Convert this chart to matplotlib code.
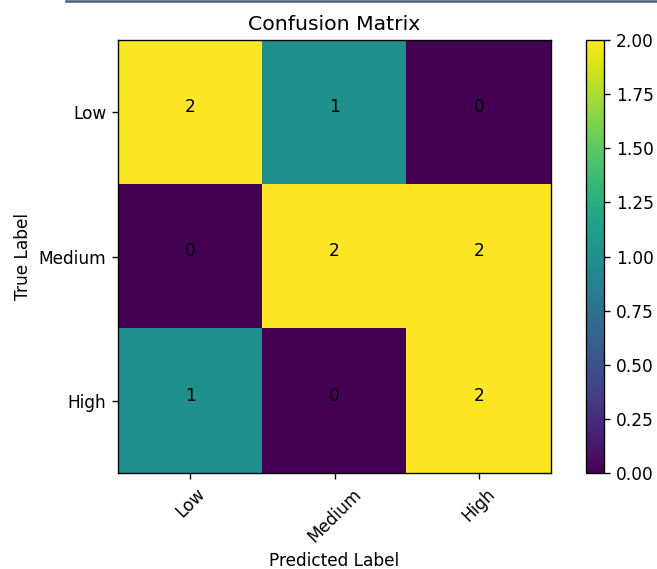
import numpy as np
import matplotlib
matplotlib.use('Agg')
import matplotlib.pyplot as plt
from matplotlib.lines import Line2D

# confusion matrix values
labels = ['Low', 'Medium', 'High']
cm = np.array([[2, 1, 0],
               [0, 2, 2],
               [1, 0, 2]])

DPI = 122
fig = plt.figure(figsize=(657 / DPI, 569 / DPI), dpi=DPI)
ax = fig.add_axes([118/657, 1 - 473/569, 433/657, 433/569])
cax = fig.add_axes([586/657, 1 - 473/569, 18/657, 433/569])

im = ax.imshow(cm, cmap='viridis', aspect='auto')
fig.colorbar(im, cax=cax)

ax.set_title('Confusion Matrix')
ax.set_xticks(np.arange(len(labels)))
ax.set_xticklabels(labels, rotation=45)
ax.set_yticks(np.arange(len(labels)))
ax.set_yticklabels(labels)
ax.set_xlabel('Predicted Label')
ax.set_ylabel('True Label')

for i in range(cm.shape[0]):
    for j in range(cm.shape[1]):
        ax.text(j, i, str(cm[i, j]), ha='center', color='black')

# leftover border from the notebook cell above
fig.add_artist(Line2D([66/657, 1], [1 - 1/569, 1 - 1/569], color='#4a5f7a', lw=1.5))

fig.savefig('out.png', dpi=DPI)
